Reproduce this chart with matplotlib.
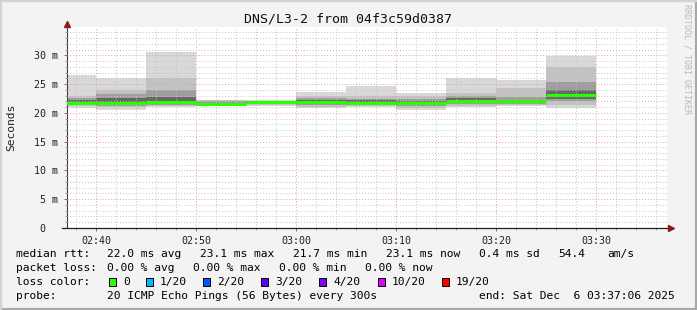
from datetime import datetime, timedelta

import matplotlib
matplotlib.use("Agg")
import matplotlib.dates as mdates
from matplotlib import pyplot as plt
from matplotlib.patches import Rectangle
from matplotlib.ticker import FuncFormatter, MultipleLocator


# 5 minute rounds of 20 pings, values in ms
bin_starts = [
    "02:35", "02:40", "02:45", "02:50", "02:55", "03:00",
    "03:05", "03:10", "03:15", "03:20", "03:25",
]
rtt_max = [26.6, 26.0, 30.6, 22.3, 22.2, 23.7, 24.7, 23.5, 26.0, 25.7, 29.9]
rtt_p90 = [23.0, 24.0, 26.1, 22.2, 22.1, 23.0, 22.9, 22.9, 23.4, 24.3, 28.0]
rtt_p75 = [22.6, 23.3, 24.0, 22.0, 22.0, 22.6, 22.5, 22.4, 23.0, 22.8, 25.3]
rtt_p60 = [22.2, 22.6, 22.7, 21.8, 21.9, 22.2, 22.2, 22.1, 22.6, 22.3, 24.0]
rtt_median = [21.8, 21.7, 21.9, 21.6, 21.9, 21.9, 21.8, 21.7, 22.1, 22.0, 23.2]
rtt_p40 = [21.6, 21.4, 21.6, 21.5, 21.7, 21.6, 21.6, 21.5, 21.8, 21.8, 22.5]
rtt_p25 = [21.4, 21.2, 21.4, 21.4, 21.5, 21.4, 21.4, 21.2, 21.6, 21.6, 22.0]
rtt_p10 = [21.2, 21.0, 21.2, 21.3, 21.4, 21.1, 21.2, 20.9, 21.2, 21.4, 21.4]
rtt_min = [20.9, 20.6, 21.0, 21.2, 21.3, 20.9, 21.0, 20.6, 21.0, 21.2, 20.9]

loss_labels = ["0", "1/20", "2/20", "3/20", "4/20", "10/20", "19/20"]
loss_colors = ["#26ff00", "#00b8ff", "#0059ff", "#5e00ff", "#7e00ff", "#dd00ff", "#ff0000"]

title = "DNS/L3-2 from 04f3c59d0387"
rtt_stats = ["22.0 ms avg", "23.1 ms max", "21.7 ms min", "23.1 ms now", "0.4 ms sd", "54.4", "am/s"]
loss_stats = ["0.00 % avg", "0.00 % max", "0.00 % min", "0.00 % now"]
probe_text = "20 ICMP Echo Pings (56 Bytes) every 300s"
end_text = "end: Sat Dec  6 03:37:06 2025"

W, H = 697, 310
MONO = "DejaVu Sans Mono"


def fx(x):
    return x / W


def fy(y):
    return 1 - y / H


day = "2025-12-06 "
starts = [datetime.strptime(day + s, "%Y-%m-%d %H:%M") for s in bin_starts]
step = timedelta(minutes=5)
ends = [s + step for s in starts]
t_end = datetime(2025, 12, 6, 3, 37, 6)
t_start = t_end - timedelta(hours=1)

plt.rcParams["font.family"] = MONO
fig = plt.figure(figsize=(W / 100, H / 100), dpi=100, facecolor="#f3f3f3")

# 3d-ish frame of the rrdtool canvas
fig.patches.append(Rectangle((0, 0), 1, 1, transform=fig.transFigure, fill=False,
                             edgecolor="#a8a8a8", linewidth=3))
fig.patches.append(Rectangle((0, fy(2)), 1, fy(0) - fy(2), transform=fig.transFigure,
                             color="#d4d4d4", linewidth=0))
fig.patches.append(Rectangle((0, 0), fx(2), 1, transform=fig.transFigure,
                             color="#d4d4d4", linewidth=0))

ax = fig.add_axes([fx(67), fy(228), fx(600), fy(27) - fy(228)])
ax.set_facecolor("white")

# smoke, outer bands first
bands = [
    (rtt_min, rtt_max, "#d8d8d8"),
    (rtt_p10, rtt_p90, "#c2c2c2"),
    (rtt_p25, rtt_p75, "#9e9e9e"),
    (rtt_p40, rtt_p60, "#686868"),
]
for lo, hi, color in bands:
    heights = [h - l for l, h in zip(lo, hi)]
    ax.bar(starts, heights, bottom=lo, width=step, align="edge",
           color=color, linewidth=0, zorder=1)

ax.hlines(rtt_median, starts, ends, color=loss_colors[0], linewidth=2.2, zorder=4)

ax.set_xlim(t_start, t_end)
ax.set_ylim(0, 34.95)

ax.xaxis.set_major_locator(mdates.MinuteLocator(byminute=range(0, 60, 10)))
ax.xaxis.set_minor_locator(mdates.MinuteLocator(byminute=range(0, 60, 2)))
ax.xaxis.set_major_formatter(mdates.DateFormatter("%H:%M"))
ax.yaxis.set_major_locator(MultipleLocator(5))
ax.yaxis.set_minor_locator(MultipleLocator(1))
ax.yaxis.set_major_formatter(FuncFormatter(lambda v, _: "0  " if v == 0 else f"{v:g} m"))

ax.set_axisbelow(False)
ax.grid(which="minor", color="#c4c4c4", linestyle=(0, (1, 2)), linewidth=0.7)
ax.grid(which="major", color="#eb9a9a", linestyle=(0, (1, 2)), linewidth=0.7)

ax.tick_params(which="both", direction="out", color="#a04040", labelsize=7.2,
               labelcolor="#202020")
ax.tick_params(which="major", length=2.5, width=0.6)
ax.tick_params(which="minor", length=1.5, width=0.5, color="#808080")
ax.tick_params(axis="x", pad=3)
ax.tick_params(axis="y", pad=4)

for side in ("top", "right", "bottom"):
    ax.spines[side].set_visible(False)
ax.spines["left"].set_color("#404040")
ax.spines["left"].set_linewidth(0.8)

# axis lines with arrows
ax.plot([-5 / 600, 1 + 3 / 600], [0, 0], transform=ax.transAxes, color="#202020",
        linewidth=0.9, clip_on=False, zorder=5)
ax.plot([1 + 4 / 600], [0], transform=ax.transAxes, marker=">", markersize=4,
        color="#8b1a1a", clip_on=False, zorder=5)
ax.plot([0], [1 + 3 / 201], transform=ax.transAxes, marker="^", markersize=4,
        color="#8b1a1a", clip_on=False, zorder=5)

fig.text(fx(348.5), fy(19), title, ha="center", va="center", fontsize=9.5, color="#101010")
fig.text(fx(11), fy(127), "Seconds", rotation=90, ha="center", va="center",
         fontsize=8.1, color="#202020")
fig.text(fx(687), fy(4), "RRDTOOL / TOBI OETIKER", rotation=270, ha="center", va="top",
         fontsize=6, color="#b8b8b8")

legend_fs = 8.1
row_y = [254, 268, 282, 296]
fig.text(fx(16), fy(row_y[0]), "median rtt:", va="center", fontsize=legend_fs)
for x, s in zip([107, 200, 293, 386, 479, 558, 607], rtt_stats):
    fig.text(fx(x), fy(row_y[0]), s, va="center", fontsize=legend_fs)

fig.text(fx(16), fy(row_y[1]), "packet loss:", va="center", fontsize=legend_fs)
for x, s in zip([107, 193, 279, 365], loss_stats):
    fig.text(fx(x), fy(row_y[1]), s, va="center", fontsize=legend_fs)

fig.text(fx(16), fy(row_y[2]), "loss color:", va="center", fontsize=legend_fs)
for x, label, color in zip([109, 146, 203, 261, 319, 378, 442], loss_labels, loss_colors):
    fig.patches.append(Rectangle((fx(x), fy(row_y[2] + 4)), fx(7), fy(0) - fy(8),
                                 transform=fig.transFigure, facecolor=color,
                                 edgecolor="black", linewidth=0.7))
    fig.text(fx(x + 14), fy(row_y[2]), label, va="center", fontsize=legend_fs)

fig.text(fx(16), fy(row_y[3]), "probe:", va="center", fontsize=legend_fs)
fig.text(fx(107), fy(row_y[3]), probe_text, va="center", fontsize=legend_fs)
fig.text(fx(479), fy(row_y[3]), end_text, va="center", fontsize=legend_fs)

fig.savefig("out.png", dpi=100, facecolor=fig.get_facecolor())
